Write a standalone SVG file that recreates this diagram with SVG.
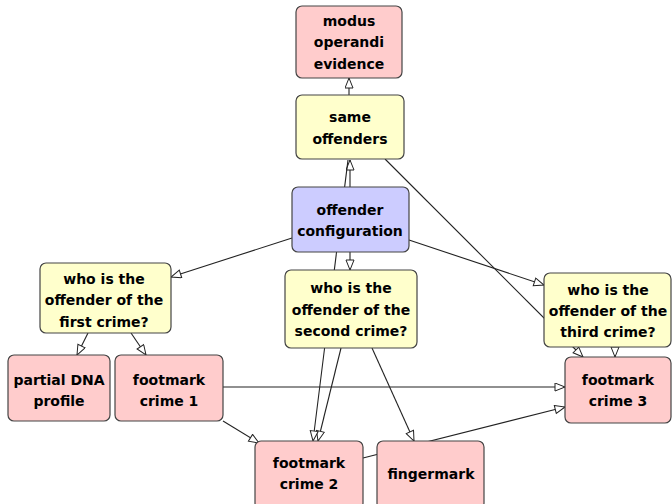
<svg xmlns="http://www.w3.org/2000/svg" width="672" height="504" viewBox="0 0 672 504">
<style>
.n rect{stroke:#444;stroke-width:1.2}
.pink rect{fill:#ffcccc}
.yel rect{fill:#ffffcc}
.blue rect{fill:#ccccff}
text{font-family:"DejaVu Sans",sans-serif;font-weight:bold;font-size:14px;fill:#000;text-anchor:middle}
.e line{stroke:#222;stroke-width:1.1;marker-end:url(#ah)}
</style>
<defs>
<marker id="ah" markerUnits="userSpaceOnUse" markerWidth="12" markerHeight="10" refX="11" refY="4.5" orient="auto">
<path d="M1,0.5 L11,4.5 L1,8.5 z" fill="#fff" stroke="#222" stroke-width="1"/>
</marker>
</defs>
<rect width="672" height="504" fill="#fff"/>
<g class="e" id="connectors">
<line x1="349" y1="95" x2="349" y2="78"/>
<line x1="292" y1="238" x2="171" y2="277"/>
<line x1="350" y1="252" x2="350" y2="270"/>
<line x1="409" y1="240" x2="544" y2="285"/>
<line x1="88" y1="333" x2="77" y2="355"/>
<line x1="131" y1="333" x2="146" y2="355"/>
<line x1="223" y1="387" x2="565" y2="387"/>
<line x1="223" y1="421" x2="259" y2="443"/>
<line x1="363" y1="458" x2="565" y2="407"/>
<line x1="372" y1="348" x2="414" y2="441"/>
<line x1="341" y1="348" x2="318" y2="441"/>
<line x1="615" y1="347" x2="615" y2="357"/>
<line x1="385" y1="159" x2="583" y2="357"/>
<line x1="350" y1="187" x2="350" y2="160"/>
<line x1="348" y1="160" x2="313" y2="441"/>
</g>
<g id="modus" class="n pink"><rect x="296" y="6" width="106" height="72" rx="6"/><text x="349" y="26">modus</text><text x="349" y="47">operandi</text><text x="349" y="69">evidence</text></g>
<g id="same" class="n yel"><rect x="296" y="95" width="108" height="64" rx="6"/><text x="350" y="122">same</text><text x="350" y="144">offenders</text></g>
<g id="config" class="n blue"><rect x="292" y="187" width="117" height="65" rx="6"/><text x="350" y="215">offender</text><text x="350" y="236">configuration</text></g>
<g id="q1" class="n yel"><rect x="40" y="263" width="131" height="70" rx="6"/><text x="104" y="284">who is the</text><text x="104" y="305">offender of the</text><text x="104" y="327">first crime?</text></g>
<g id="q2" class="n yel"><rect x="285" y="270" width="132" height="78" rx="6"/><text x="351" y="293">who is the</text><text x="351" y="315">offender of the</text><text x="351" y="336">second crime?</text></g>
<g id="q3" class="n yel"><rect x="544" y="273" width="127" height="74" rx="6"/><text x="608" y="295">who is the</text><text x="608" y="316">offender of the</text><text x="608" y="337">third crime?</text></g>
<g id="dna" class="n pink"><rect x="8" y="355" width="102" height="66" rx="6"/><text x="59" y="385">partial DNA</text><text x="59" y="406">profile</text></g>
<g id="fm1" class="n pink"><rect x="115" y="355" width="108" height="66" rx="6"/><text x="169" y="385">footmark</text><text x="169" y="406">crime 1</text></g>
<g id="fm3" class="n pink"><rect x="565" y="357" width="106" height="66" rx="6"/><text x="618" y="385">footmark</text><text x="618" y="406">crime 3</text></g>
<g id="fm2" class="n pink"><rect x="255" y="441" width="108" height="68" rx="6"/><text x="309" y="468">footmark</text><text x="309" y="489">crime 2</text></g>
<g id="finger" class="n pink"><rect x="377" y="441" width="107" height="68" rx="6"/><text x="431" y="479">fingermark</text></g>
</svg>
